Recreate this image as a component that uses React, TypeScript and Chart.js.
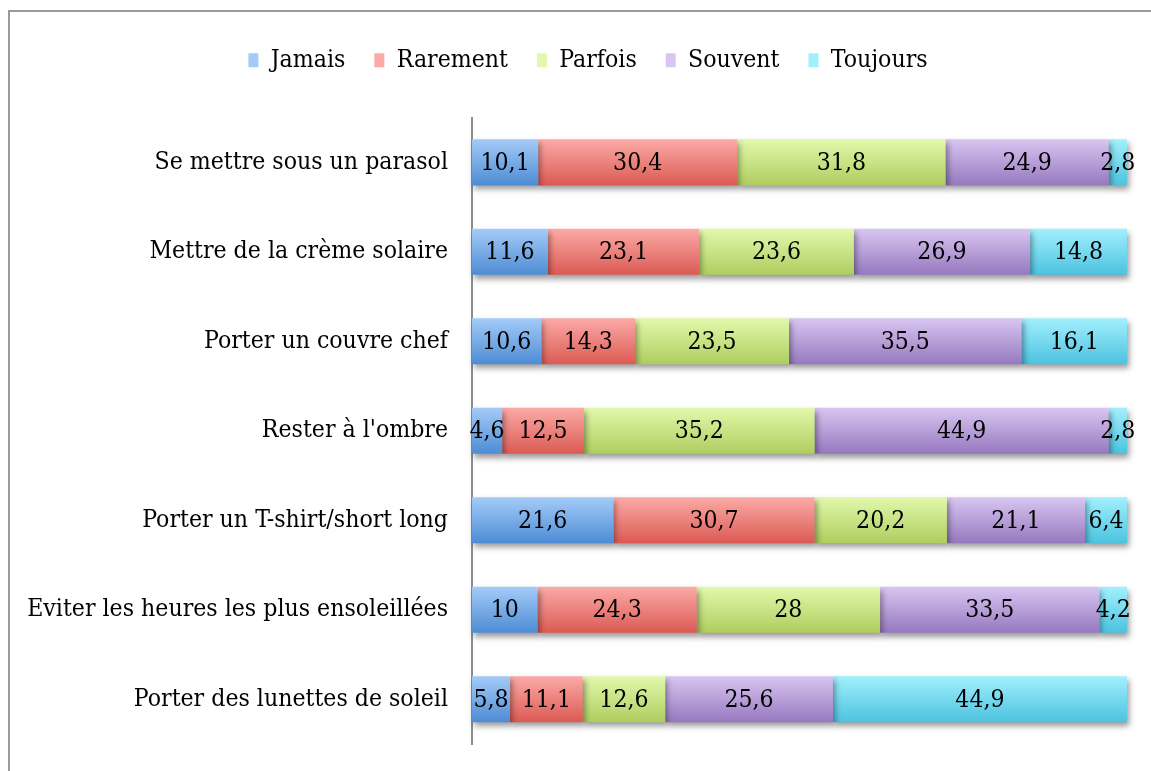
import React, { useEffect, useRef } from "react";
import { Chart, registerables } from "chart.js";

Chart.register(...registerables);

const categories = [
  "Se mettre sous un parasol",
  "Mettre de la crème solaire",
  "Porter un couvre chef",
  "Rester à l'ombre",
  "Porter un T-shirt/short long",
  "Eviter les heures les plus ensoleillées",
  "Porter des lunettes de soleil",
];

const seriesNames = ["Jamais", "Rarement", "Parfois", "Souvent", "Toujours"];

const jamais = [10.1, 11.6, 10.6, 4.6, 21.6, 10, 5.8];
const rarement = [30.4, 23.1, 14.3, 12.5, 30.7, 24.3, 11.1];
const parfois = [31.8, 23.6, 23.5, 35.2, 20.2, 28, 12.6];
const souvent = [24.9, 26.9, 35.5, 44.9, 21.1, 33.5, 25.6];
const toujours = [2.8, 14.8, 16.1, 2.8, 6.4, 4.2, 44.9];

const seriesValues = [jamais, rarement, parfois, souvent, toujours];

const topColors = ["#a4cbf8", "#fcaaa6", "#e2f9ab", "#d8c6f1", "#a2f0fd"];
const bottomColors = ["#4d8cd5", "#db5a53", "#aecd5f", "#9678bf", "#4cc2df"];
const midColors = ["#78acea", "#ef8580", "#c9e686", "#b69fd9", "#76d9f0"];

const FONT = "'DejaVu Serif Condensed', 'DejaVu Serif', serif";
const FONT_SIZE = 24.6;
const BAR_PCT = 0.515;

const fmt = (v: number) => String(v).replace(".", ",");

export default function App() {
  const ref = useRef<HTMLCanvasElement | null>(null);

  useEffect(() => {
    if (!ref.current) return;

    const shadowAndLabels = {
      id: "shadowAndLabels",
      afterLayout(chart: any) {
        const lg = chart.legend;
        if (lg) {
          lg.left += 14.5;
          lg.right += 14.5;
        }
      },
      beforeDatasetsDraw(chart: any) {
        const c = chart.ctx;
        c.save();
        c.shadowColor = "rgba(0,0,0,0.4)";
        c.shadowBlur = 6;
        c.shadowOffsetX = 2;
        c.shadowOffsetY = 4;
      },
      afterDatasetsDraw(chart: any) {
        const c = chart.ctx;
        c.restore();
        c.save();
        c.font = `${FONT_SIZE}px ${FONT}`;
        c.fillStyle = "#000";
        c.textAlign = "center";
        c.textBaseline = "middle";
        chart.data.datasets.forEach((ds: any, di: number) => {
          const meta = chart.getDatasetMeta(di);
          meta.data.forEach((el: any, i: number) => {
            const v = ds.data[i];
            const x = (el.x + el.base) / 2;
            c.fillText(fmt(v), x, el.y + 1);
          });
        });
        c.restore();
      },
    };

    const chart = new Chart(ref.current, {
      type: "bar",
      data: {
        labels: categories,
        datasets: seriesNames.map((name, si) => ({
          label: name,
          data: seriesValues[si],
          borderWidth: 0,
          barPercentage: BAR_PCT,
          categoryPercentage: 1,
          clip: false as any,
          backgroundColor: (ctx: any) => {
            const chart = ctx.chart;
            const ys = chart.scales && chart.scales.y;
            if (!ys || ctx.type !== "data") return midColors[si];
            const y = ys.getPixelForValue(ctx.dataIndex);
            const half = (ys.height / categories.length) * BAR_PCT / 2;
            if (!isFinite(y) || !isFinite(half) || half <= 0) return midColors[si];
            const g = chart.ctx.createLinearGradient(0, y - half, 0, y + half);
            g.addColorStop(0, topColors[si]);
            g.addColorStop(1, bottomColors[si]);
            return g;
          },
        })),
      },
      options: {
        indexAxis: "y",
        animation: false,
        responsive: true,
        maintainAspectRatio: false,
        layout: { padding: { left: 10, right: 24, top: 7, bottom: 27 } },
        plugins: {
          legend: {
            position: "top",
            align: "center",
            labels: {
              boxWidth: 10,
              boxHeight: 14,
              padding: 29,
              color: "#000",
              font: { family: FONT, size: FONT_SIZE },
            },
          },
          tooltip: { enabled: false },
        },
        scales: {
          x: {
            stacked: true,
            min: 0,
            max: 100,
            position: "top",
            display: true,
            ticks: { display: false },
            grid: { display: false, drawTicks: false },
            border: { display: false },
            afterFit(s: any) {
              s.height = 35;
              s.paddingLeft = 0;
              s.paddingRight = 0;
            },
          },
          y: {
            stacked: true,
            grid: { display: false, drawTicks: false },
            border: { display: true, color: "#8c8c8c", width: 2 },
            ticks: {
              color: "#000",
              padding: 24,
              font: { family: FONT, size: FONT_SIZE },
            },
            afterFit(s: any) {
              s.width = 452;
              s.paddingTop = 0;
              s.paddingBottom = 0;
            },
          },
        },
      },
      plugins: [shadowAndLabels],
    } as any);

    return () => chart.destroy();
  }, []);

  return (
    <div
      style={{
        position: "absolute",
        left: 8,
        top: 10,
        width: 1143,
        height: 761,
        borderLeft: "2px solid #9a9a9a",
        borderTop: "2px solid #9a9a9a",
        boxSizing: "border-box",
        background: "#fff",
      }}
    >
      <div style={{ position: "relative", width: 1141, height: 759 }}>
        <canvas ref={ref} />
      </div>
    </div>
  );
}
